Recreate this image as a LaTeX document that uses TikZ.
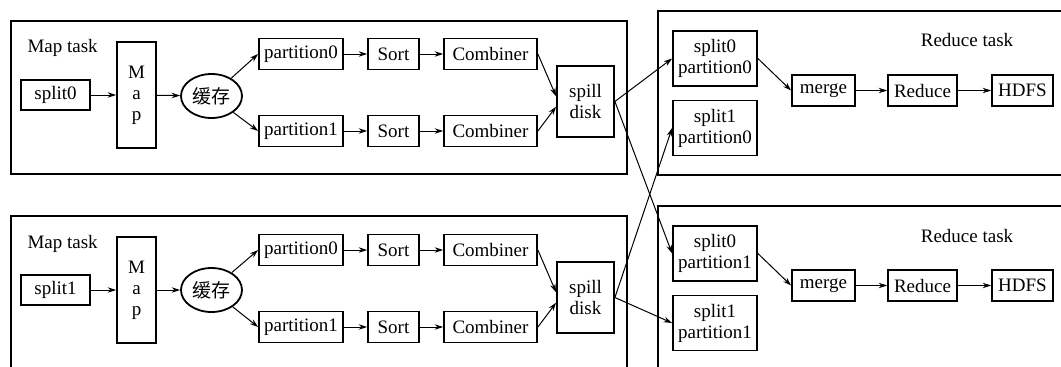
\documentclass[tikz,border=0pt]{standalone}
\usepackage{fontspec}
\setmainfont{Liberation Serif}
\newfontfamily\cjk{Noto Sans CJK SC}
\usetikzlibrary{arrows.meta}
\usetikzlibrary{shapes.geometric}

\tikzset{
  box/.style={draw, line width=1.8pt, inner sep=1pt, align=center, minimum height=31pt},
  task/.style={draw, line width=1.9pt},
  buf/.style={draw, ellipse, line width=1.8pt, inner sep=0pt, minimum width=61pt, minimum height=44pt},
}

\begin{document}
\begin{tikzpicture}[x=1pt, y=-1pt, line width=1pt,
    >={Stealth[length=8.5pt,width=5.5pt]}, font=\fontsize{19}{21}\selectfont]
  \clip (0,0) rectangle (1061,367);
  % task frames
  \draw[task] (11,21) rectangle (627,174);
  \draw[task] (11,216) rectangle (627,390);
  \draw[task] (658,11) rectangle (1075,175);
  \draw[task] (658,206) rectangle (1075,390);

  % upper map task
  \node (mta) [anchor=west, inner sep=0pt] at (27,48) {Map task};
  \node (splita) [box, minimum width=69pt, minimum height=30pt] at (55.5,95) {split0};
  \node (mapa) [box, minimum width=39pt, minimum height=106pt] at (136.5,95) {M\\a\\p};
  \node (bufa) [buf] at (211.5,96) {\cjk 缓存};
  \node (pa0) [box, minimum width=84pt] at (301,54) {partition0};
  \node (pa1) [box, minimum width=84pt] at (301,131) {partition1};
  \node (sa0) [box, minimum width=51pt] at (393.5,54) {Sort};
  \node (sa1) [box, minimum width=51pt] at (393.5,131) {Sort};
  \node (ca0) [box, minimum width=93pt] at (490.5,54) {Combiner};
  \node (ca1) [box, minimum width=93pt] at (490.5,131) {Combiner};
  \node (spa) [box, minimum width=57pt, minimum height=71pt] at (585.5,101.5) {spill\\disk};

  % lower map task
  \node (mtb) [anchor=west, inner sep=0pt] at (27,244) {Map task};
  \node (splitb) [box, minimum width=69pt, minimum height=30pt] at (55.5,290) {split1};
  \node (mapb) [box, minimum width=39pt, minimum height=106pt] at (136.5,290) {M\\a\\p};
  \node (bufb) [buf] at (211.5,290) {\cjk 缓存};
  \node (pb0) [box, minimum width=84pt] at (301,250) {partition0};
  \node (pb1) [box, minimum width=84pt] at (301,327) {partition1};
  \node (sb0) [box, minimum width=51pt] at (393.5,250) {Sort};
  \node (sb1) [box, minimum width=51pt] at (393.5,327) {Sort};
  \node (cb0) [box, minimum width=93pt] at (490.5,250) {Combiner};
  \node (cb1) [box, minimum width=93pt] at (490.5,327) {Combiner};
  \node (spb) [box, minimum width=57pt, minimum height=71pt] at (585.5,297.5) {spill\\disk};

  % upper reduce task
  \node (rta) at (967,40) {Reduce task};
  \node (sp00) [box, minimum width=84pt, minimum height=55pt] at (715,58.5) {split0\\partition0};
  \node (sp10) [box, minimum width=84pt, minimum height=55pt] at (715,128) {split1\\partition0};
  \node (mga) [box, minimum width=63pt] at (823.5,90.5) {merge};
  \node (rda) [box, minimum width=69pt] at (922.5,90.5) {Reduce};
  \node (hda) [box, minimum width=61pt] at (1022.5,90.5) {HDFS};

  % lower reduce task
  \node (rtb) at (967,236) {Reduce task};
  \node (sp01) [box, minimum width=84pt, minimum height=55pt] at (715,253.5) {split0\\partition1};
  \node (sp11) [box, minimum width=84pt, minimum height=55pt] at (715,323) {split1\\partition1};
  \node (mgb) [box, minimum width=63pt] at (823.5,285.5) {merge};
  \node (rdb) [box, minimum width=69pt] at (922.5,285.5) {Reduce};
  \node (hdb) [box, minimum width=61pt] at (1022.5,285.5) {HDFS};

  \draw[->] (splita) -- (mapa);
  \draw[->] (mapa) -- (bufa);
  \draw[->] (bufa) -- (pa0.west);
  \draw[->] (bufa) -- (pa1.west);
  \draw[->] (pa0) -- (sa0);
  \draw[->] (pa1) -- (sa1);
  \draw[->] (sa0) -- (ca0);
  \draw[->] (sa1) -- (ca1);
  \draw[->] (ca0.east) -- (spa.170);
  \draw[->] (ca1.east) -- (spa.190);

  \draw[->] (splitb) -- (mapb);
  \draw[->] (mapb) -- (bufb);
  \draw[->] (bufb) -- (pb0.west);
  \draw[->] (bufb) -- (pb1.west);
  \draw[->] (pb0) -- (sb0);
  \draw[->] (pb1) -- (sb1);
  \draw[->] (sb0) -- (cb0);
  \draw[->] (sb1) -- (cb1);
  \draw[->] (cb0.east) -- (spb.170);
  \draw[->] (cb1.east) -- (spb.190);

  \draw[->] (spa.east) -- (sp00.west);
  \draw[->] (spa.east) -- (sp01.west);
  \draw[->] (spb.east) -- (sp10.west);
  \draw[->] (spb.east) -- (sp11.west);

  \draw[->] (sp00.east) -- (mga.west);
  \draw[->] (mga) -- (rda);
  \draw[->] (rda) -- (hda);
  \draw[->] (sp01.east) -- (mgb.west);
  \draw[->] (mgb) -- (rdb);
  \draw[->] (rdb) -- (hdb);
\end{tikzpicture}
\end{document}
